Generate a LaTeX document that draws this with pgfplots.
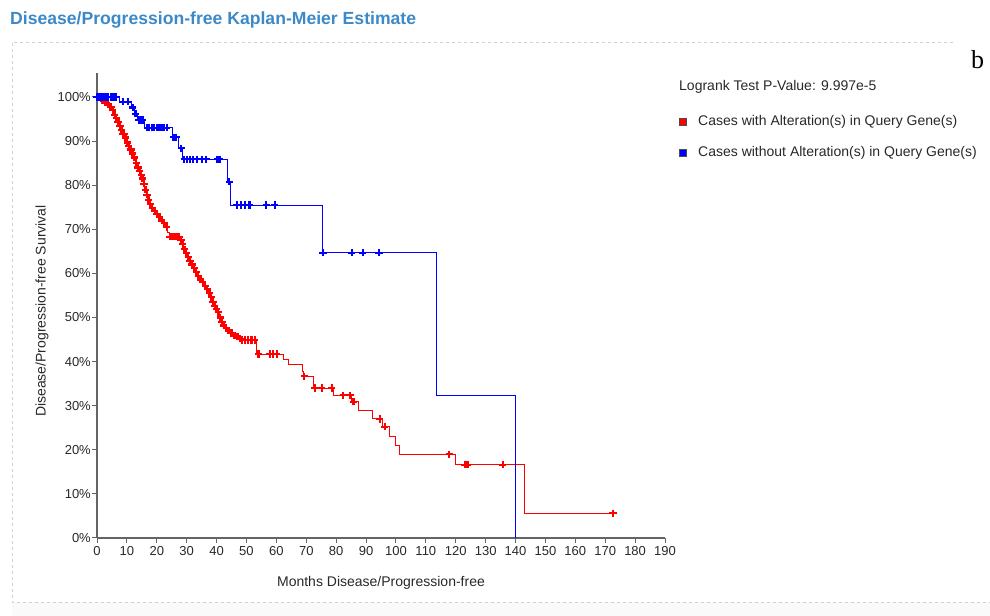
\documentclass[border=0pt]{standalone}
\usepackage{fontspec}
\setmainfont{Liberation Sans}
\newfontfamily\seriffont{Liberation Serif}
\usepackage{pgfplots}
\usepackage{pgfplotstable}
\pgfplotsset{compat=1.18}
\definecolor{titleblue}{RGB}{60,137,200}
\definecolor{axisgray}{RGB}{100,100,100}
\definecolor{txt}{RGB}{40,40,40}

% Kaplan-Meier step values (months, survival %) after each event
\pgfplotstableread{
m s
0 100
1.0 99.6
1.8 99.2
2.6 98.7
3.5 98.3
4.3 97.7
5.0 97.0
5.6 96.0
6.2 95.2
6.8 94.3
7.4 93.4
8.0 92.6
8.6 91.7
9.2 90.8
9.8 89.7
10.4 88.9
11.0 88.1
11.6 87.2
12.2 86.3
12.8 85.1
13.4 84.0
14.0 83.2
14.6 82.3
15.0 81.5
15.5 80.3
16.0 79.0
16.5 77.8
17.0 76.7
17.5 75.7
18.2 74.9
19.0 74.1
19.8 73.4
20.6 72.7
21.4 72.0
22.2 71.4
23.0 70.5
23.6 69.3
24.2 68.3
27.8 67.6
28.4 66.6
29.0 65.5
29.6 64.6
30.2 63.8
30.8 62.9
31.5 62.0
32.2 61.2
32.9 60.3
33.6 59.4
34.3 58.6
35.0 58.0
35.8 57.2
36.6 56.4
37.3 55.6
37.9 54.6
38.5 53.6
39.1 52.6
39.7 51.9
40.3 51.2
40.9 50.0
41.5 49.0
42.1 48.2
42.8 47.6
43.6 47.0
44.5 46.5
45.5 46.0
46.5 45.6
47.5 45.2
48.3 44.9
53.4 41.7
62.3 40.5
64.2 39.4
68.7 37.7
69.2 36.7
72.3 34.0
79.0 32.4
85.2 30.9
87.4 29.0
92.2 27.0
95.4 25.2
97.7 23.1
99.9 20.9
101.3 19.0
120.0 16.6
142.9 5.6
172.6 5.6
}\redsteps

% censored cases, altered group
\pgfplotstableread{
m s
0.3 100
0.8 100
1.3 99.6
1.7 99.6
2.2 99.2
2.7 98.7
3.1 98.7
3.8 98.3
4.4 97.7
4.8 97.7
5.3 97.0
5.9 96.0
6.4 95.2
6.9 94.3
7.2 94.3
7.7 93.4
8.2 92.6
8.7 91.7
9.0 91.7
9.5 90.8
10.1 89.7
10.6 88.9
11.1 88.1
11.4 88.1
11.9 87.2
12.5 86.3
13.1 85.1
13.7 84.0
14.3 83.2
14.8 82.3
15.2 81.5
15.7 80.3
16.2 79.0
16.7 77.8
17.2 76.7
17.8 75.7
18.5 74.9
19.3 74.1
20.1 73.4
20.9 72.7
21.7 72.0
22.5 71.4
23.3 70.5
24.4 68.3
25.0 68.3
25.6 68.3
26.2 68.3
26.8 68.3
27.4 68.3
28.1 67.6
28.7 66.6
29.3 65.5
29.9 64.6
30.5 63.8
31.1 62.9
31.8 62.0
32.5 61.2
33.2 60.3
33.9 59.4
34.6 58.6
35.4 58.0
36.2 57.2
36.9 56.4
37.6 55.6
38.2 54.6
38.8 53.6
39.4 52.6
40.0 51.9
40.6 51.2
41.2 50.0
41.8 49.0
42.4 48.2
43.2 47.6
44.0 47.0
45.0 46.5
46.0 46.0
47.0 45.6
47.9 45.2
48.6 44.9
49.5 44.9
50.5 44.9
51.7 44.9
52.8 44.9
54.0 41.7
57.9 41.7
59.0 41.7
60.1 41.7
69.3 36.7
72.9 34.0
75.2 34.0
78.5 34.0
82.4 32.4
84.6 32.4
85.8 30.9
94.6 27.0
96.3 25.2
117.8 19.0
123.1 16.6
123.9 16.6
135.7 16.6
172.6 5.6
}\redcens

% Kaplan-Meier steps, unaltered group
\pgfplotstableread{
m s
0 100
7.5 98.9
11.5 97.6
12.5 96.2
13.5 94.8
16.0 93.0
25.3 90.9
27.3 88.4
28.6 85.9
43.7 80.8
44.8 75.5
75.4 64.7
113.4 32.4
140.1 0
}\bluesteps

% censored cases, unaltered group
\pgfplotstableread{
m s
0 100
0.6 100
1.2 100
1.8 100
2.4 100
3.0 100
3.8 100
4.6 100
5.4 100
6.2 100
8.7 98.9
10.5 98.9
12.0 97.6
12.9 96.2
14.0 94.8
14.6 94.8
15.3 94.8
16.8 93.0
17.5 93.0
18.3 93.0
19.2 93.0
20.0 93.0
20.8 93.0
21.6 93.0
22.4 93.0
23.3 93.0
25.6 90.9
26.5 90.9
28.2 88.4
29.2 85.9
30.0 85.9
31.0 85.9
32.0 85.9
33.5 85.9
35.0 85.9
36.5 85.9
40.2 85.9
41.0 85.9
44.2 80.8
46.8 75.5
48.2 75.5
49.5 75.5
51.0 75.5
56.6 75.5
59.5 75.5
75.6 64.7
85.2 64.7
88.9 64.7
94.3 64.7
}\bluecens

\begin{document}
\begin{tikzpicture}[x=1bp,y=1bp]
\useasboundingbox (0,0) rectangle (990,616);
% panel frame: left, top and bottom dashed edges
\fill[black!2] (12,0) rectangle (990,14);
\draw[black!18, line width=0.8bp, dash pattern=on 3bp off 3bp] (953,574) -- (12,574) -- (12,14) -- (990,14);
\node[anchor=base west, inner sep=0pt, text=titleblue,
      font=\bfseries\fontsize{17.6bp}{20bp}\selectfont] at (10,591) {Disease/Progression-free Kaplan-Meier Estimate};
\node[anchor=base west, inner sep=0pt, font=\seriffont\fontsize{26bp}{28bp}\selectfont] at (971,547) {b};

\begin{axis}[
  at={(97bp,78bp)}, anchor=south west,
  scale only axis, width=568bp, height=464.8bp,
  xmin=0, xmax=190, ymin=0, ymax=105.4,
  axis lines=left,
  axis line style={-, axisgray, line width=1.3bp},
  xtick={0,10,...,190}, ytick={0,10,...,100},
  tick align=outside, major tick length=5bp,
  tick style={axisgray, line width=1bp},
  /pgf/number format/assume math mode=true,
  yticklabel={\pgfmathprintnumber{\tick}\%},
  ticklabel style={font=\fontsize{13bp}{15bp}\selectfont, text=txt},
  yticklabel style={inner xsep=1bp},
  clip=false,
]
\addplot[const plot, red, line width=1bp, mark=none] table {\redsteps};
\addplot[const plot, blue, line width=1bp, mark=none] table {\bluesteps};
\addplot[only marks, red, mark=+, mark size=3.6bp, mark options={line width=2.2bp}] table {\redcens};
\addplot[only marks, blue, mark=+, mark size=3.6bp, mark options={line width=2.2bp}] table {\bluecens};
\end{axis}

% axis titles
\node[text=txt, font=\fontsize{14bp}{16bp}\selectfont] at (381,33) {Months Disease/Progression-free};
\node[text=txt, rotate=90, font=\fontsize{14bp}{16bp}\selectfont] at (42,305) {Disease/Progression-free Survival};

% legend
\node[anchor=west, inner sep=0pt, text=txt, font=\fontsize{14bp}{16bp}\selectfont] at (679,529) {Logrank Test P-Value: 9.997e-5};
\draw[fill=red, draw=black!70, line width=0.8bp] (679,490.5) rectangle (686,497.5);
\node[anchor=west, inner sep=0pt, text=txt, font=\fontsize{14bp}{16bp}\selectfont] at (698,494) {Cases with Alteration(s) in Query Gene(s)};
\draw[fill=blue, draw=black!70, line width=0.8bp] (679,459.5) rectangle (686,466.5);
\node[anchor=west, inner sep=0pt, text=txt, font=\fontsize{14bp}{16bp}\selectfont] at (698,463) {Cases without Alteration(s) in Query Gene(s)};
\end{tikzpicture}
\end{document}
